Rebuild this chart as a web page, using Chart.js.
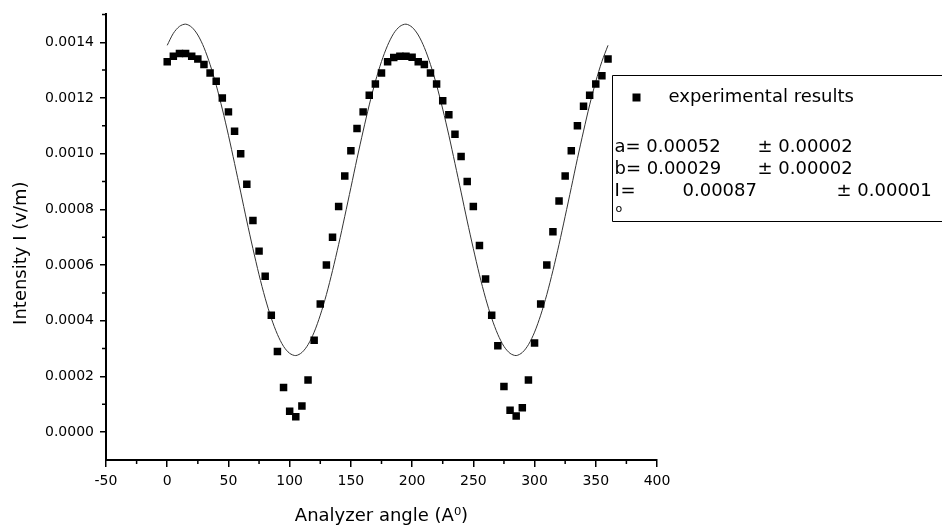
<!DOCTYPE html>
<html><head><meta charset="utf-8">
<script src="https://cdn.jsdelivr.net/npm/chart.js@4/dist/chart.umd.min.js"></script>
<style>html,body{margin:0;padding:0;background:#fff;}canvas{display:block;}</style>
</head><body>
<canvas id="c" width="942" height="531"></canvas>
<script>
// Analyzer angles (degrees) for the measured points
const angles = [0,5,10,15,20,25,30,35,40,45,50,55,60,65,70,75,80,85,90,95,100,105,110,115,120,125,130,135,140,145,150,155,160,165,170,175,180,185,190,195,200,205,210,215,220,225,230,235,240,245,250,255,260,265,270,275,280,285,290,295,300,305,310,315,320,325,330,335,340,345,350,355,360];
// Measured intensity (v/m)
const intensity = [0.00133,0.00135,0.00136,0.00136,0.00135,0.00134,0.00132,0.00129,0.00126,0.00120,0.00115,0.00108,0.00100,0.00089,0.00076,0.00065,0.00056,0.00042,0.00029,0.00016,0.000075,0.000055,0.000094,0.000187,0.00033,0.00046,0.00060,0.00070,0.00081,0.00092,0.00101,0.00109,0.00115,0.00121,0.00125,0.00129,0.00133,0.001345,0.00135,0.00135,0.001346,0.00133,0.00132,0.00129,0.00125,0.00119,0.00114,0.00107,0.00099,0.00090,0.00081,0.00067,0.00055,0.00042,0.00031,0.000164,0.000079,0.000058,0.000088,0.000187,0.00032,0.00046,0.00060,0.00072,0.00083,0.00092,0.00101,0.00110,0.00117,0.00121,0.00125,0.00128,0.00134];
// Fitted curve
const fitAngles = [0,5,10,15,20,25,30,35,40,45,50,55,60,65,70,75,80,85,90,95,100,105,110,115,120,125,130,135,140,145,150,155,160,165,170,175,180,185,190,195,200,205,210,215,220,225,230,235,240,245,250,255,260,265,270,275,280,285,290,295,300,305,310,315,320,325,330,335,340,345,350,355,360];
const fitIntensity = [0.001389,0.001432,0.001457,0.001465,0.001454,0.001426,0.001381,0.001320,0.001246,0.001160,0.001066,0.000965,0.000862,0.000758,0.000659,0.000565,0.000481,0.000409,0.000351,0.000308,0.000283,0.000275,0.000286,0.000314,0.000359,0.000420,0.000494,0.000580,0.000674,0.000775,0.000878,0.000982,0.001081,0.001175,0.001259,0.001331,0.001389,0.001432,0.001457,0.001465,0.001454,0.001426,0.001381,0.001320,0.001246,0.001160,0.001066,0.000965,0.000862,0.000758,0.000659,0.000565,0.000481,0.000409,0.000351,0.000308,0.000283,0.000275,0.000286,0.000314,0.000359,0.000420,0.000494,0.000580,0.000674,0.000775,0.000878,0.000982,0.001081,0.001175,0.001259,0.001331,0.001389];
// Axis ticks
const xTickValues = [-50,0,50,100,150,200,250,300,350,400];
const xMinorTicks = [-25,25,75,125,175,225,275,325,375];
const yTickValues = [0,0.0002,0.0004,0.0006,0.0008,0.0010,0.0012,0.0014];
const yMinorTicks = [0.0001,0.0003,0.0005,0.0007,0.0009,0.0011,0.0013,0.0015];
// Texts
const xTitle = 'Analyzer angle (A\u2070)';
const yTitle = 'Intensity I (v/m)';
const legendLabel = 'experimental results';
const paramA = ['a= 0.00052', '\u00b1 0.00002'];
const paramB = ['b= 0.00029', '\u00b1 0.00002'];
const paramI0 = ['0.00087', '\u00b1 0.00001'];

const FONT = "'DejaVu Sans', sans-serif";
Chart.defaults.font.family = FONT;
Chart.defaults.color = '#000';

const extras = {
  id: 'extras',
  afterDraw(chart) {
    const ctx = chart.ctx;
    const xs = chart.scales.x, ys = chart.scales.y;
    const ca = chart.chartArea;
    ctx.save();
    // minor ticks
    ctx.strokeStyle = '#000';
    ctx.lineWidth = 1.5;
    ctx.beginPath();
    xMinorTicks.forEach(v => {
      const px = xs.getPixelForValue(v);
      ctx.moveTo(px, ca.bottom); ctx.lineTo(px, ca.bottom + 4);
    });
    yMinorTicks.forEach(v => {
      const py = ys.getPixelForValue(v);
      ctx.moveTo(ca.left, py); ctx.lineTo(ca.left - 4, py);
    });
    ctx.stroke();
    // y title
    ctx.save();
    ctx.translate(21, (ca.top + ca.bottom) / 2 + 16);
    ctx.rotate(-Math.PI / 2);
    ctx.font = '18px ' + FONT;
    ctx.textAlign = 'center';
    ctx.textBaseline = 'middle';
    ctx.fillStyle = '#000';
    ctx.fillText(yTitle, 0, 0);
    ctx.restore();
    // legend box (right side runs off the canvas)
    const bx = Math.round(ca.right - 45) + 0.5, by = 75.5, bb = 221.5, br = chart.width + 5;
    ctx.lineWidth = 1;
    ctx.strokeStyle = '#000';
    ctx.beginPath();
    ctx.moveTo(br, by); ctx.lineTo(bx, by); ctx.lineTo(bx, bb); ctx.lineTo(br, bb);
    ctx.stroke();
    ctx.fillStyle = '#000';
    ctx.fillRect(bx + 20, by + 18, 8, 8);
    ctx.font = '18px ' + FONT;
    ctx.textBaseline = 'middle';
    ctx.textAlign = 'left';
    ctx.fillText(legendLabel, bx + 56, by + 22);
    ctx.fillText(paramA[0], bx + 2, by + 72);
    ctx.fillText(paramA[1], bx + 145, by + 72);
    ctx.fillText(paramB[0], bx + 2, by + 94);
    ctx.fillText(paramB[1], bx + 145, by + 94);
    ctx.fillText('I', bx + 2, by + 116);
    ctx.fillText('=', bx + 8, by + 116);
    ctx.fillText(paramI0[0], bx + 70, by + 116);
    ctx.fillText(paramI0[1], bx + 224, by + 116);
    ctx.font = '11px ' + FONT;
    ctx.fillText('o', bx + 3, by + 134);
    ctx.restore();
  }
};

new Chart(document.getElementById('c'), {
  type: 'scatter',
  data: {
    datasets: [
      {
        label: 'fit',
        data: fitAngles.map((a, i) => ({x: a, y: fitIntensity[i]})),
        showLine: true,
        borderColor: '#333',
        borderWidth: 1,
        pointRadius: 0,
        tension: 0.3,
        order: 2
      },
      {
        label: legendLabel,
        data: angles.map((a, i) => ({x: a, y: intensity[i]})),
        pointStyle: 'rect',
        pointRadius: 5.3,
        backgroundColor: '#000',
        borderColor: '#000',
        borderWidth: 0,
        order: 1
      }
    ]
  },
  options: {
    responsive: false,
    animation: false,
    layout: {padding: {left: 0, right: 285, top: 7, bottom: 0}},
    plugins: {legend: {display: false}, tooltip: {enabled: false}},
    scales: {
      x: {
        type: 'linear',
        min: -50, max: 400,
        afterBuildTicks: s => { s.ticks = xTickValues.map(v => ({value: v})); },
        afterFit: s => { s.height = 71; },
        ticks: {font: {size: 14}, color: '#000', padding: 6, maxRotation: 0, autoSkip: false},
        grid: {drawOnChartArea: false, drawTicks: true, tickLength: 7, color: '#000', lineWidth: 1.5},
        border: {display: true, color: '#000', width: 2},
        title: {display: true, text: xTitle, font: {size: 18}, color: '#000', padding: {top: 0, bottom: 4}}
      },
      y: {
        type: 'linear',
        min: -0.0001, max: 0.0015,
        afterBuildTicks: s => { s.ticks = yTickValues.map(v => ({value: v})); },
        afterFit: s => { s.width = 106; },
        ticks: {font: {size: 14}, color: '#000', padding: 6, autoSkip: false, callback: v => Number(v).toFixed(4)},
        grid: {drawOnChartArea: false, drawTicks: true, tickLength: 6, color: '#000', lineWidth: 1.5},
        border: {display: true, color: '#000', width: 2},
        title: {display: false}
      }
    }
  },
  plugins: [extras]
});
</script>
</body></html>
